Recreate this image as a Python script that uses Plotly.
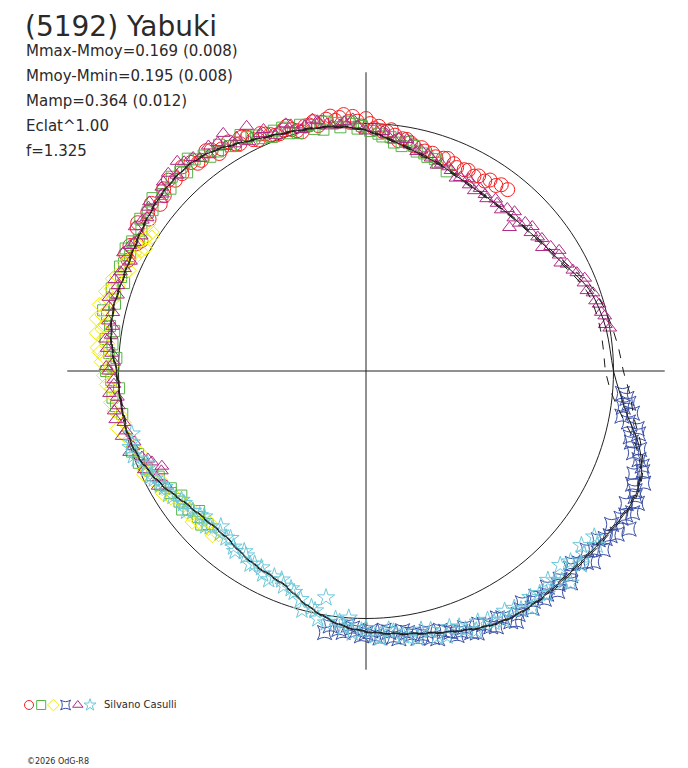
import plotly.graph_objs as go

# phase (deg, clockwise from top) and polar radius (1 = reference circle)
red_phase = [295, 298, 300, 302, 305, 308, 311, 314, 317, 320, 322, 325, 327, 330, 332, 334, 336, 338,
             340, 342, 344, 346, 348, 350, 352, 354, 356, 357, 359, 1, 3, 5, 7, 9, 11, 14, 17, 20,
             23, 26, 29, 32, 35, 38,
             296, 299, 303, 306, 309, 312, 315, 318, 321, 324, 326, 329, 331, 333, 335, 337, 339, 341,
             343, 345, 347, 349, 351, 353, 355, 358, 0, 2, 4, 6, 8, 10, 12, 15, 18, 21, 24, 27, 30, 33, 36]
red_r = [1.06, 1.08, 1.05, 1.09, 1.07, 1.10, 1.08, 1.11, 1.09, 1.10, 1.08, 1.09, 1.07, 1.06, 1.07, 1.04,
         1.05, 1.03, 1.02, 1.04, 1.01, 1.02, 1.03, 1.02, 1.04, 1.03, 1.01, 1.03, 0.99, 1.00, 0.99, 0.97,
         0.96, 0.95, 0.94, 0.93, 0.92, 0.915, 0.91, 0.905, 0.90, 0.905, 0.915, 0.93,
         1.08, 1.06, 1.10, 1.09, 1.07, 1.10, 1.09, 1.11, 1.08, 1.10, 1.06, 1.08, 1.05, 1.06, 1.03, 1.04,
         1.02, 1.03, 1.02, 1.00, 1.02, 1.01, 1.03, 1.02, 1.04, 1.01, 1.02, 0.98, 0.97, 0.98, 0.94, 0.95,
         0.93, 0.92, 0.91, 0.92, 0.90, 0.91, 0.91, 0.92, 0.93]

green_phase = [226, 229, 232, 235, 238, 241, 243, 246, 248, 251, 262, 266, 268, 271, 274, 277, 279, 282,
               285, 288, 291, 294, 297, 300, 304, 307, 311, 315, 318, 321, 324, 327, 330, 333, 336,
               339, 342, 345, 348, 351, 354, 356, 358, 1, 4, 7, 10, 13, 16, 19, 22,
               227, 230, 233, 236, 239, 244, 250, 260, 264, 270, 273, 276, 280, 283, 287, 290, 293, 296,
               299, 302, 306, 309, 313, 317, 320, 323, 326, 329, 332, 335, 338, 341, 344, 347, 350, 353,
               357, 359, 3, 6, 9, 12, 15, 18]
green_r = [0.89, 0.90, 0.91, 0.92, 0.93, 0.95, 0.94, 0.97, 0.99, 1.00, 1.02, 1.00, 1.03, 1.02, 1.04, 1.06,
           1.03, 1.07, 1.05, 1.08, 1.06, 1.07, 1.09, 1.06, 1.10, 1.08, 1.09, 1.11, 1.08, 1.10, 1.07, 1.09,
           1.05, 1.06, 1.03, 1.04, 1.01, 1.03, 1.00, 1.02, 0.99, 1.01, 0.98, 0.97, 0.95, 0.93, 0.94, 0.91,
           0.90, 0.89, 0.87,
           0.91, 0.88, 0.93, 0.90, 0.92, 0.96, 0.98, 1.00, 1.03, 1.05, 1.01, 1.03, 1.05, 1.09, 1.06, 1.04,
           1.08, 1.06, 1.08, 1.07, 1.09, 1.11, 1.08, 1.10, 1.12, 1.09, 1.07, 1.06, 1.08, 1.05, 1.02, 1.04,
           1.00, 1.02, 0.99, 1.01, 1.00, 0.99, 0.96, 0.95, 0.92, 0.93, 0.91, 0.90]

yellow_phase = [222, 225, 228, 231, 234, 237, 240, 243, 246, 252, 255, 258, 261, 264, 267, 270, 272, 274,
                276, 278, 280, 282, 284, 286, 288, 290, 292, 294, 296, 298, 300, 302, 304,
                223, 226, 229, 232, 236, 239, 242, 245, 250, 254, 257, 260, 263, 266, 269, 271, 273, 275,
                277, 279, 281, 283, 285, 287, 289, 291, 293, 295, 297, 299, 301, 303]
yellow_r = [0.89, 0.90, 0.91, 0.92, 0.91, 0.94, 0.95, 0.97, 0.98, 0.99, 1.01, 1.00, 1.03, 1.02, 1.05, 1.04,
            1.07, 1.08, 1.05, 1.10, 1.07, 1.09, 1.11, 1.06, 1.08, 1.09, 1.05, 1.07, 1.04, 1.03, 1.05, 1.02,
            1.06,
            0.91, 0.88, 0.93, 0.90, 0.92, 0.96, 0.94, 0.99, 0.97, 0.99, 1.03, 1.01, 1.04, 1.03, 1.06, 1.03,
            1.06, 1.09, 1.07, 1.08, 1.11, 1.07, 1.09, 1.10, 1.06, 1.08, 1.04, 1.06, 1.05, 1.02, 1.04, 1.03]

blue_phase = [95, 97, 99, 100, 102, 104, 106, 107, 109, 111, 112, 114, 116, 117, 119, 121, 122, 124, 126,
              127, 129, 131, 133, 135, 137, 139, 141, 143, 145, 147, 149, 151, 153, 155, 157, 159, 161,
              163, 165, 167, 169, 171, 173, 175, 177, 179, 181, 183, 185, 189,
              96, 98, 101, 103, 105, 108, 110, 113, 115, 118, 120, 123, 125, 128, 130, 132, 134, 136, 138,
              140, 142, 144, 146, 148, 150, 152, 154, 156, 158, 160, 162, 164, 166, 168, 170, 172, 174,
              176, 178, 180, 182, 184, 186, 188]
blue_r = [1.04, 1.07, 1.09, 1.05, 1.12, 1.10, 1.15, 1.13, 1.18, 1.16, 1.21, 1.19, 1.22, 1.18, 1.20, 1.24,
          1.17, 1.19, 1.16, 1.20, 1.15, 1.18, 1.14, 1.17, 1.15, 1.18, 1.16, 1.14, 1.17, 1.15, 1.18, 1.14,
          1.16, 1.13, 1.15, 1.11, 1.13, 1.10, 1.12, 1.08, 1.10, 1.07, 1.09, 1.06, 1.08, 1.05, 1.07, 1.04,
          1.06, 1.07,
          1.06, 1.05, 1.08, 1.13, 1.11, 1.16, 1.19, 1.17, 1.20, 1.22, 1.19, 1.21, 1.18, 1.17, 1.20, 1.16,
          1.15, 1.19, 1.16, 1.14, 1.17, 1.15, 1.13, 1.16, 1.17, 1.13, 1.15, 1.12, 1.14, 1.12, 1.11, 1.09,
          1.11, 1.09, 1.08, 1.06, 1.08, 1.05, 1.07, 1.06, 1.05, 1.03, 1.05, 1.04]

purple_phase = [240, 243, 245, 247, 249, 252, 255, 258, 261, 264, 267, 270, 272, 275, 278, 281, 284, 287,
                290, 293, 296, 299, 302, 305, 308, 311, 313, 316, 319, 322, 325, 328, 331, 334, 337, 340,
                343, 346, 349, 352, 355, 358, 2, 5, 8, 11, 14, 17, 20, 23, 26, 29, 32, 35, 38, 41, 44,
                45, 47, 50, 53, 56, 59, 62, 65, 68, 71, 74, 77, 80,
                241, 244, 246, 248, 251, 253, 256, 259, 262, 265, 268, 271, 274, 277, 280, 283, 286, 289,
                292, 295, 298, 301, 304, 307, 310, 312, 315, 318, 321, 324, 327, 329, 330, 333, 336, 339,
                342, 345, 348, 351, 354, 357, 0, 4, 7, 10, 13, 16, 19, 22, 25, 28, 31, 34, 37, 40, 43,
                46, 49, 52, 55, 58, 61, 64, 67, 70, 73, 76, 79]
purple_r = [0.93, 0.95, 0.91, 0.94, 0.97, 0.99, 1.02, 1.00, 1.03, 1.01, 1.02, 1.04, 1.02, 1.05, 1.04, 1.06,
            1.07, 1.05, 1.08, 1.06, 1.09, 1.07, 1.10, 1.08, 1.11, 1.09, 1.12, 1.10, 1.12, 1.09, 1.11, 1.07,
            1.08, 1.10, 1.06, 1.03, 1.04, 1.02, 1.03, 1.00, 1.01, 0.99, 0.98, 0.96, 0.95, 0.93, 0.92, 0.90,
            0.89, 0.88, 0.87, 0.86, 0.87, 0.85, 0.86, 0.87, 0.86, 0.82, 0.88, 0.87, 0.89, 0.90, 0.91, 0.92,
            0.94, 0.95, 0.97, 0.98, 0.99, 1.00,
            0.96, 0.92, 0.98, 0.95, 1.01, 0.98, 1.00, 1.03, 1.01, 1.04, 1.02, 1.05, 1.03, 1.06, 1.04, 1.05,
            1.08, 1.06, 1.07, 1.05, 1.08, 1.06, 1.09, 1.10, 1.08, 1.11, 1.13, 1.14, 1.11, 1.08, 1.10, 1.12,
            1.06, 1.04, 1.05, 1.02, 1.05, 1.01, 1.04, 1.01, 1.00, 1.02, 0.97, 0.97, 0.94, 0.95, 0.91, 0.91,
            0.88, 0.89, 0.86, 0.88, 0.85, 0.86, 0.87, 0.85, 0.88, 0.86, 0.89, 0.88, 0.87, 0.92, 0.90, 0.93,
            0.96, 0.95, 0.97, 0.98, 0.985]

cyan_phase = [126, 129, 132, 135, 136, 138, 141, 144, 147, 150, 153, 156, 159, 162, 165, 168, 171, 174,
              177, 180, 183, 184, 186, 189, 190, 192, 195, 198, 201, 204, 207, 210, 213, 216, 219, 222,
              225, 228, 231, 234, 237, 240, 243, 246, 249, 252, 255,
              127, 130, 133, 137, 139, 142, 145, 148, 151, 154, 157, 160, 163, 166, 169, 172, 175, 178,
              181, 185, 187, 191, 193, 196, 199, 202, 205, 208, 211, 214, 217, 220, 223, 226, 229, 232,
              235, 238, 241, 244, 247, 250, 253]
cyan_r = [1.14, 1.12, 1.17, 1.11, 1.19, 1.14, 1.16, 1.13, 1.15, 1.12, 1.14, 1.11, 1.12, 1.09, 1.11, 1.07,
          1.09, 1.06, 1.08, 1.04, 1.06, 1.00, 1.02, 1.03, 0.93, 0.99, 1.00, 0.94, 0.93, 0.91, 0.92, 0.90,
          0.89, 0.90, 0.87, 0.88, 0.89, 0.88, 0.90, 0.91, 0.93, 0.94, 0.96, 0.97, 0.99, 1.00, 0.98,
          1.17, 1.15, 1.13, 1.16, 1.12, 1.14, 1.17, 1.13, 1.15, 1.12, 1.14, 1.10, 1.12, 1.08, 1.10, 1.08,
          1.05, 1.07, 1.05, 1.04, 1.01, 1.02, 0.98, 0.96, 0.93, 0.91, 0.93, 0.90, 0.91, 0.88, 0.89, 0.88,
          0.86, 0.90, 0.89, 0.92, 0.91, 0.94, 0.95, 0.97, 0.96, 1.00, 0.99]

# fitted Fourier curve (solid) and two alternative fits (dashed)
fit_phase = list(range(0, 365, 5))
fit_r = [0.972, 0.945, 0.92, 0.90, 0.885, 0.868, 0.858, 0.855, 0.855, 0.86, 0.868, 0.882, 0.90, 0.93,
         0.96, 0.975, 0.985, 0.99, 1.00, 1.03, 1.075, 1.14, 1.185, 1.20, 1.19, 1.175, 1.165, 1.16, 1.16,
         1.16, 1.155, 1.14, 1.117, 1.095, 1.078, 1.065, 1.053, 1.035, 1.005, 0.97, 0.93, 0.912, 0.903,
         0.89, 0.877, 0.88, 0.89, 0.91, 0.94, 0.965, 0.985, 0.995, 0.996, 1.0, 1.008, 1.03, 1.045, 1.052,
         1.05, 1.055, 1.065, 1.078, 1.09, 1.097, 1.097, 1.083, 1.058, 1.035, 1.019, 1.008, 1.0, 0.99, 0.972]
fit_a_r = [0.975, 0.948, 0.924, 0.904, 0.889, 0.872, 0.862, 0.858, 0.858, 0.863, 0.872, 0.887, 0.907,
           0.94, 0.975, 0.995, 1.01, 1.025, 1.04, 1.07, 1.10, 1.15, 1.19, 1.205, 1.195, 1.18, 1.17, 1.165,
           1.165, 1.163, 1.158, 1.143, 1.12, 1.098, 1.081, 1.068, 1.056, 1.038, 1.008, 0.973, 0.934, 0.915,
           0.906, 0.893, 0.88, 0.883, 0.893, 0.913, 0.943, 0.968, 0.988, 0.998, 0.999, 1.003, 1.011,
           1.033, 1.048, 1.055, 1.053, 1.058, 1.068, 1.081, 1.093, 1.1, 1.1, 1.086, 1.061, 1.038, 1.022,
           1.011, 1.003, 0.993, 0.975]
fit_b_r = [0.969, 0.942, 0.917, 0.897, 0.882, 0.865, 0.855, 0.852, 0.852, 0.857, 0.865, 0.878, 0.895,
           0.922, 0.948, 0.958, 0.962, 0.963, 0.968, 0.995, 1.05, 1.125, 1.18, 1.195, 1.185, 1.17, 1.16,
           1.155, 1.155, 1.157, 1.152, 1.137, 1.114, 1.092, 1.075, 1.062, 1.05, 1.032, 1.002, 0.967, 0.927,
           0.909, 0.9, 0.887, 0.874, 0.877, 0.887, 0.907, 0.937, 0.962, 0.982, 0.992, 0.993, 0.997, 1.005,
           1.027, 1.042, 1.049, 1.047, 1.052, 1.062, 1.075, 1.087, 1.094, 1.094, 1.08, 1.055, 1.032, 1.016,
           1.005, 0.997, 0.987, 0.969]

circle_phase = list(range(0, 361, 2))
cross_len = 1.207

sessions = [
    (red_phase, red_r, 'circle-open', '#F52020', 14),
    (green_phase, green_r, 'square-open', '#55B545', 11),
    (yellow_phase, yellow_r, 'diamond-open', '#F2EC00', 11),
    (blue_phase, blue_r, 'star-square-open', '#3A4FA5', 13),
    (purple_phase, purple_r, 'triangle-up-open', '#B02A86', 12),
    (cyan_phase, cyan_r, 'star-open', '#6CC8DA', 13),
]

fig = go.Figure()

# reference circle and axes cross
fig.add_trace(go.Scatterpolar(r=[1] * len(circle_phase), theta=circle_phase, mode='lines',
                              line=dict(color='#222222', width=1), hoverinfo='skip'))
fig.add_trace(go.Scatterpolar(r=[cross_len, 0, cross_len], theta=[90, 0, 270], mode='lines',
                              line=dict(color='#222222', width=1), hoverinfo='skip'))
fig.add_trace(go.Scatterpolar(r=[cross_len, 0, cross_len], theta=[0, 0, 180], mode='lines',
                              line=dict(color='#222222', width=1), hoverinfo='skip'))

for ph, rr, sym, col, sz in sessions:
    fig.add_trace(go.Scatterpolar(r=rr, theta=ph, mode='markers', cliponaxis=False,
                                  marker=dict(symbol=sym, color=col, size=sz, line=dict(width=1, color=col))))

for rr, dash in [(fit_a_r, 'dash'), (fit_b_r, 'dash'), (fit_r, 'solid')]:
    fig.add_trace(go.Scatterpolar(r=rr, theta=fit_phase, mode='lines',
                                  line=dict(color='#1A1A1A', width=1, dash=dash, shape='spline')))

# legend glyph row
for i, (ph, rr, sym, col, sz) in enumerate(sessions):
    fig.add_trace(go.Scatter(x=[i], y=[0], mode='markers', xaxis='x', yaxis='y',
                             marker=dict(symbol=sym, color=col, size=9, line=dict(width=1, color=col))))

# page has an 8px body margin, so positions below are page pixels minus OFF
OFF = 8
W, H = 680, 760
cx, cy, rad = 366 - OFF, 371 - OFF, 247.5
R = 1.30
half = rad * R


def px(x):
    return (x - OFF) / W


def py(y):
    return 1 - (y - OFF) / H


fig.update_layout(
    width=W, height=H,
    margin=dict(l=0, r=0, t=0, b=0),
    paper_bgcolor='white', plot_bgcolor='white',
    showlegend=False,
    polar=dict(
        domain=dict(x=[(cx - half) / W, (cx + half) / W],
                    y=[(H - cy - half) / H, (H - cy + half) / H]),
        bgcolor='white',
        radialaxis=dict(range=[0, R], visible=False, showgrid=False),
        angularaxis=dict(rotation=90, direction='clockwise', visible=False,
                         showgrid=False, showline=False, ticks=''),
    ),
    xaxis=dict(domain=[px(22.9), px(96.1)], range=[-0.5, 5.5], visible=False, fixedrange=True),
    yaxis=dict(domain=[py(715), py(695)], range=[-1, 1], visible=False, fixedrange=True),
    font=dict(family='DejaVu Sans, Arial', color='#2A2A2A'),
)

lines = ['Mmax-Mmoy=0.169 (0.008)', 'Mmoy-Mmin=0.195 (0.008)', 'Mamp=0.364 (0.012)', 'Eclat^1.00', 'f=1.325']
ann = [dict(text='(5192) Yabuki', x=px(23), y=py(8), xref='paper', yref='paper',
            xanchor='left', yanchor='top', showarrow=False, font=dict(size=28))]
for k, t in enumerate(lines):
    ann.append(dict(text=t, x=px(24), y=py(51 + 25 * k), xref='paper', yref='paper',
                    xanchor='left', yanchor='middle', showarrow=False, font=dict(size=15)))
ann.append(dict(text='Silvano Casulli', x=px(102), y=py(704), xref='paper', yref='paper',
                xanchor='left', yanchor='middle', showarrow=False, font=dict(size=10)))
ann.append(dict(text='©2026 OdG-R8', x=px(25), y=py(761), xref='paper', yref='paper',
                xanchor='left', yanchor='middle', showarrow=False, font=dict(size=8)))
fig.update_layout(annotations=ann)

fig.write_html('out.html')
